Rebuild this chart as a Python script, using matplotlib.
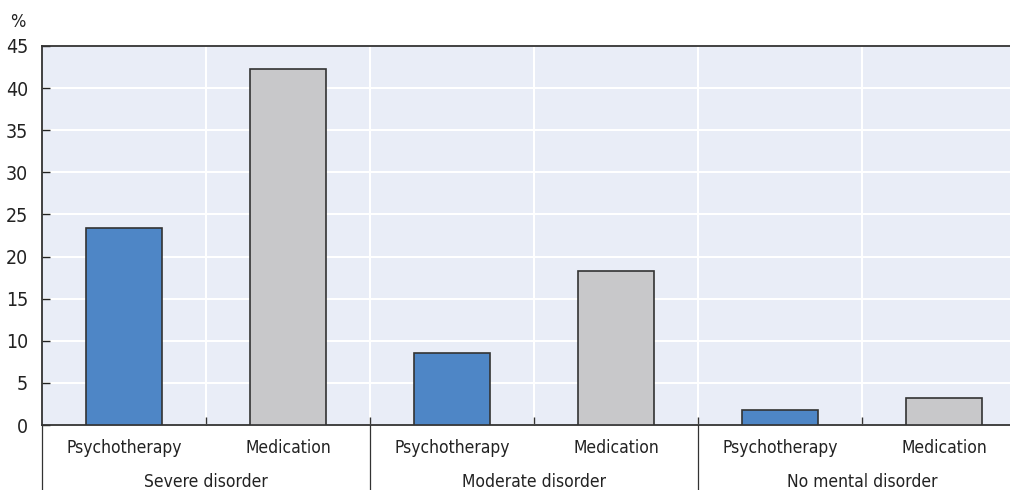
import matplotlib.pyplot as plt
from matplotlib.lines import Line2D

plt.rcParams['font.family'] = ['DejaVu Sans']
plt.rcParams['font.stretch'] = 'condensed'

groups = ['Severe disorder', 'Moderate disorder', 'No mental disorder']
treatments = ['Psychotherapy', 'Medication']
psychotherapy = [23.4, 8.6, 1.8]
medication = [42.3, 18.3, 3.2]

blue = '#4e86c6'
grey = '#c8c8ca'
bg = '#e9edf7'

fig = plt.figure(figsize=(10.1, 4.9), dpi=100)
ax = fig.add_axes([42 / 1010, 65 / 490, 984 / 1010, 379 / 490])
ax.set_facecolor(bg)

# interleave values: psychotherapy, medication for each group
values = []
colors = []
labels = []
for p, m in zip(psychotherapy, medication):
    values += [p, m]
    colors += [blue, grey]
    labels += treatments

xs = list(range(len(values)))
ax.bar(xs, values, width=0.465, color=colors, edgecolor='#333333', linewidth=1.2, zorder=3)

ax.set_xlim(-0.5, len(values) - 0.5)
ax.set_ylim(0, 45)
ax.set_yticks(range(0, 46, 5))
ax.tick_params(axis='y', direction='in', length=6, width=1, labelsize=14, colors='#222222', pad=10)
ax.yaxis.grid(True, color='white', linewidth=1.5, zorder=1)

# category boundaries
bounds = [i + 0.5 for i in range(len(values) - 1)]
ax.set_xticks(bounds)
ax.set_xticklabels([])
ax.tick_params(axis='x', direction='in', length=6, width=1, colors='#333333')
ax.xaxis.grid(True, color='white', linewidth=1.5, zorder=1)

for s in ['left', 'top', 'bottom']:
    ax.spines[s].set_color('#333333')
    ax.spines[s].set_linewidth(1.3)
ax.spines['right'].set_visible(False)

# category labels
trans = ax.get_xaxis_transform()
for x, lab in zip(xs, labels):
    ax.text(x, -0.06, lab, transform=trans, ha='center', va='center', fontsize=12.5, color='#222222')
for i, g in enumerate(groups):
    ax.text(2 * i + 0.5, -0.15, g, transform=trans, ha='center', va='center', fontsize=12.5, color='#222222')

# group separators below axis
for xb in [-0.5, 1.5, 3.5]:
    ax.add_line(Line2D([xb, xb], [0, -0.175], transform=trans, color='#333333', linewidth=0.9, clip_on=False))

fig.text(18 / 1010, 1 - 22 / 490, '%', ha='center', va='center', fontsize=13, color='#222222')

fig.savefig('out.png', dpi=100)
